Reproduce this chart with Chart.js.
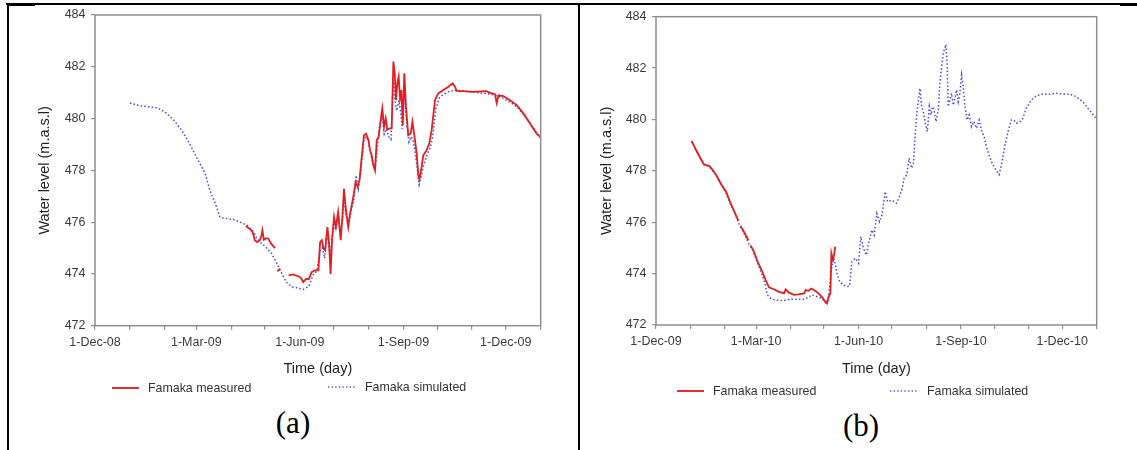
<!DOCTYPE html>
<html>
<head>
<meta charset="utf-8">
<script src="https://cdn.jsdelivr.net/npm/chart.js@4.4.0/dist/chart.umd.min.js"></script>
<style>
  body { margin: 0; background: #fff; }
  #page { position: relative; width: 1137px; height: 450px; overflow: hidden; background: #fff;
          font-family: Arial, "Liberation Sans", sans-serif; }
  canvas { position: absolute; top: 0; }
  #chart-a { left: 0; }
  #chart-b { left: 560px; }
  .rule { position: absolute; background: #000; z-index: 2; }
  .legend-item { position: absolute; display: flex; align-items: center; font-size: 12.4px; color: #333;
                 transform: translateY(-50%); white-space: nowrap; }
  .legend-item svg { margin-right: 9px; }
  .caption { position: absolute; font-family: "Liberation Serif", "Times New Roman", serif; font-size: 31px;
             color: #000; transform: translate(-50%, -50%); }
</style>
</head>
<body>
<div id="page">
  <!-- table rules around the two panels -->
  <div class="rule" style="left:6px; top:3px; width:1131px; height:1.5px;"></div>
  <div class="rule" style="left:7px; top:3px; width:28px; height:2.5px;"></div>
  <div class="rule" style="left:565px; top:3px; width:31px; height:2px;"></div>
  <div class="rule" style="left:1120px; top:4px; width:17px; height:1.8px;"></div>
  <div class="rule" style="left:6.7px; top:3px; width:2.3px; height:447px;"></div>
  <div class="rule" style="left:578.3px; top:3px; width:2px; height:447px;"></div>

  <canvas id="chart-a" width="560" height="400"></canvas>
  <canvas id="chart-b" width="560" height="400"></canvas>

  <div class="legend-item" style="left:112px; top:388px;">
    <svg width="27" height="4"><line x1="0" y1="2" x2="27" y2="2" stroke="#e03030" stroke-width="2"/></svg>
    Famaka measured
  </div>
  <div class="legend-item" style="left:328px; top:386.5px;">
    <svg width="28" height="4"><line x1="0" y1="2" x2="28" y2="2" stroke="#5a5ad8" stroke-width="1.4" stroke-dasharray="1.4 2.2"/></svg>
    Famaka simulated
  </div>
  <div class="caption" style="left:293px; top:423px;">(a)</div>

  <div class="legend-item" style="left:677px; top:391px;">
    <svg width="27" height="4"><line x1="0" y1="2" x2="27" y2="2" stroke="#e03030" stroke-width="2"/></svg>
    Famaka measured
  </div>
  <div class="legend-item" style="left:890px; top:390.5px;">
    <svg width="28" height="4"><line x1="0" y1="2" x2="28" y2="2" stroke="#5a5ad8" stroke-width="1.4" stroke-dasharray="1.4 2.2"/></svg>
    Famaka simulated
  </div>
  <div class="caption" style="left:861px; top:426px;">(b)</div>
</div>

<script>
// days counted from 1 December of the first year, one tick per month start
const monthTicks = [0, 31, 62, 90, 121, 151, 182, 212, 243, 274, 304, 335, 365, 396];
const labelsA = ['1-Dec-08', '1-Mar-09', '1-Jun-09', '1-Sep-09', '1-Dec-09'];
const labelsB = ['1-Dec-09', '1-Mar-10', '1-Jun-10', '1-Sep-10', '1-Dec-10'];
const levelTicks = [472, 474, 476, 478, 480, 482, 484];

// 2009 season: [day, water level]; null marks days without records
const measuredA = [
  [134, 475.85], [136, 475.78], [138, 475.72], [140, 475.62], [142, 475.3], [144, 475.23],
  [146.5, 475.3], [148, 475.5], [148.7, 475.68], [150, 475.32], [152, 475.38], [154, 475.36],
  [157, 475.14], [160, 475.0], [161, null], [162, 474.1], [164.5, 474.2], [167, null],
  [172, 473.94], [176, 473.98], [181, 473.9], [183, 473.85], [185, 473.68], [187.5, 473.81],
  [190, 473.8], [192.5, 474.07], [195.5, 474.14], [198.5, 474.14], [200, 475.23], [201.5, 475.3],
  [203, 474.98], [204.5, 474.91], [206.5, 475.81], [208, 475.17], [209.3, 474.0], [210.6, 475.3],
  [212.4, 476.2], [214, 475.81], [216, 476.39], [218.3, 475.3], [219.8, 476.2], [221.2, 477.29],
  [223, 476.46], [225, 475.81], [226.6, 476.33], [229.5, 476.97], [231.6, 477.55], [233.4, 477.36],
  [235, 477.62], [237, 478.52], [239, 479.36], [240.8, 479.42], [243, 479.17], [244.3, 478.78],
  [245.8, 478.58], [247.3, 478.2], [248.8, 478.0], [250.3, 479.17], [252, 479.29], [253.8, 479.94],
  [255.3, 480.39], [256.8, 479.68], [258.3, 480.01], [259.7, 479.58], [262, 479.62], [263.6, 479.62],
  [265.1, 482.2], [266.3, 481.75], [267.4, 480.71], [268.6, 481.36], [269.8, 481.62], [271, 480.78],
  [272.2, 481.1], [273.4, 479.75], [274.8, 481.75], [276.3, 480.46], [278.3, 479.36], [280.5, 479.42],
  [282, 479.87], [284.3, 479.17], [285.8, 478.65], [287.3, 477.81], [288.2, 477.65], [290.2, 478.13],
  [291.7, 478.58], [294.7, 478.78], [297, 479.04], [299.1, 479.55], [302.1, 480.71], [305, 480.97],
  [309.5, 481.1], [314, 481.23], [317.8, 481.36], [319.8, 481.23], [321.3, 481.07], [327, 481.06],
  [336, 481.03], [348, 481.06], [351, 480.99], [355.4, 480.94], [356.9, 480.6], [358.4, 480.9],
  [362.8, 480.87], [368.7, 480.71], [374.7, 480.52], [380.6, 480.2], [386.5, 479.81], [392.4, 479.42],
  [396, 479.27]
];
const simulatedA = [
  [31, 480.6], [40, 480.49], [55, 480.42], [62, 480.26], [70, 479.94], [77, 479.55], [84, 479.04],
  [90, 478.52], [98, 477.87], [102, 477.23], [107, 476.71], [111, 476.2], [114, 476.16], [123, 476.1],
  [129, 476.0], [135, 475.88], [141, 475.62], [144, 475.36], [148, 475.17], [151, 475.07], [157, 474.78],
  [161, 474.46], [166, 474.01], [170, 473.68], [175, 473.5], [179, 473.47], [185, 473.4], [190, 473.52],
  [194, 473.98], [197, 474.1], [200, 474.9], [202, 475.0], [204, 474.6], [206, 475.7], [209, 474.7],
  [212, 475.9], [214, 475.7], [216, 476.3], [218, 475.6], [220, 476.1], [221, 476.9], [223, 476.3],
  [225, 475.9], [227, 476.3], [230, 476.9], [232, 477.8], [234, 477.3], [236, 477.9], [239, 479.2],
  [241, 479.3], [243, 479.1], [245, 478.6], [247, 478.3], [249, 478.1], [251, 479.0], [253, 479.7],
  [255, 480.1], [257, 479.4], [259, 479.6], [261, 479.3], [263, 479.2], [265, 481.5], [266, 480.9],
  [268, 480.3], [270, 480.7], [272, 480.1], [273, 479.6], [275, 481.0], [277, 479.8], [279, 479.1],
  [281, 479.3], [283, 479.1], [285, 478.5], [288, 477.45], [290, 477.8], [292, 478.2], [295, 478.6],
  [298, 478.9], [300, 479.3], [303, 480.4], [306, 480.8], [310, 480.95], [315, 481.05], [320, 481.1],
  [330, 481.05], [340, 481.0], [350, 480.95], [356, 480.9], [362, 480.8], [368, 480.65], [375, 480.45],
  [381, 480.15], [387, 479.8], [393, 479.4], [396, 479.25]
];

// 2010 season
const measuredB = [
  [32, 479.17], [36, 478.81], [40, 478.49], [43, 478.25], [48, 478.19], [51, 478.03], [54, 477.84],
  [58, 477.52], [63, 477.19], [67, 476.74], [70, 476.45], [74, 476.05], [75, null], [76, 475.85],
  [79, 475.63], [83, 475.3], [84, null], [85, 475.1], [88, 474.86], [91, 474.5], [95.5, 474.08],
  [98.5, 473.75], [101.5, 473.47], [106, 473.39], [110, 473.3], [115, 473.23], [116.5, 473.39],
  [119.5, 473.26], [124, 473.17], [128, 473.19], [133, 473.23], [134.5, 473.36], [137, 473.33],
  [139.5, 473.42], [143, 473.33], [146, 473.23], [149, 473.1], [152, 472.91], [153.7, 472.84],
  [155.2, 473.1], [156.7, 473.23], [157.6, 474.79], [159, 474.53], [160, 474.72], [161, 475.05]
];
const simulatedB = [
  [32, 479.15], [36, 478.8], [40, 478.47], [44, 478.23], [48, 478.17], [51, 478.0], [55, 477.8],
  [59, 477.45], [63, 477.12], [67, 476.7], [71, 476.35], [75, 475.9], [79, 475.6], [83, 475.2],
  [87, 474.9], [91, 474.45], [95, 474.0], [98, 473.6], [100, 473.17], [103, 473.04], [107, 472.97],
  [115, 472.95], [121, 473.0], [127, 473.0], [133, 473.0], [137, 473.08], [140, 473.17], [145, 473.1],
  [149, 473.04], [153, 472.84], [155, 473.1], [158, 474.27], [159.7, 474.6], [161, 474.4],
  [162.6, 474.01], [165, 473.69], [168.6, 473.56], [171.6, 473.49], [174, 473.52], [176, 474.47],
  [179, 474.6], [182, 474.4], [184, 475.44], [186.5, 474.98], [189, 474.72], [191, 475.18],
  [194, 475.7], [196, 475.5], [198.4, 476.34], [200.8, 476.02], [203, 476.28], [206, 477.19],
  [208, 476.8], [212, 476.86], [216, 476.74], [218.7, 476.99], [220.8, 477.26], [223, 477.71],
  [225.3, 477.84], [227.4, 478.49], [229.8, 478.1], [231.3, 478.29], [232.8, 479.33], [234.3, 480.24],
  [235.8, 480.76], [237.2, 481.21], [238.7, 480.5], [240.2, 480.31], [242, 479.85], [243.8, 479.53],
  [245.6, 480.5], [247.1, 480.18], [248.6, 480.5], [250.1, 480.31], [251.6, 479.92], [253.7, 480.37],
  [255.1, 481.41], [256.6, 482.06], [258.1, 482.58], [259.6, 482.77], [260.5, 482.92], [261.7, 482.06],
  [262.6, 480.5], [264.1, 480.76], [265.6, 481.02], [267.1, 480.56], [268.6, 480.82], [270.1, 481.15],
  [271.6, 480.69], [273.1, 481.02], [274.6, 481.73], [276.1, 481.28], [277.5, 480.56], [279.6, 479.98],
  [281.4, 480.18], [283.5, 479.72], [285.6, 479.92], [288, 479.66], [290.4, 479.98], [292.4, 479.59],
  [294.8, 479.33], [296.9, 478.94], [299.3, 478.62], [301.4, 478.36], [304.4, 478.1], [306.5, 477.97],
  [308.3, 477.85], [310.4, 478.23], [313.3, 478.94], [316.3, 479.53], [319.3, 479.98], [321.4, 479.98],
  [323.8, 479.85], [327.4, 479.92], [329.7, 480.05], [332.7, 480.44], [337.2, 480.76], [341.7, 480.92],
  [347.6, 480.99], [353.6, 480.98], [359.6, 481.02], [365.6, 480.99], [371.6, 480.99], [377.5, 480.89],
  [383.5, 480.69], [388, 480.44], [395.4, 480.05]
];

const axisGrey = '#8f8f8f';
const tickText = '#3a3a3a';

// grey box round the plotting area
const frameBox = {
  id: 'frameBox',
  afterDatasetsDraw(chart) {
    const { ctx, chartArea: a } = chart;
    ctx.save();
    ctx.strokeStyle = axisGrey;
    ctx.lineWidth = 1.5;
    ctx.strokeRect(a.left, a.top, a.right - a.left, a.bottom - a.top);
    ctx.restore();
  }
};

function toPoints(rows) {
  return rows.map(([day, level]) => ({ x: day, y: level }));
}

function buildChart(canvasId, measured, simulated, labels, box) {
  const majorLabel = new Map(labels.map((text, i) => [monthTicks[i * 3], text]));

  return new Chart(document.getElementById(canvasId), {
    type: 'line',
    data: {
      datasets: [{
        label: 'Famaka measured',
        data: toPoints(measured),
        borderColor: '#e41e1e',
        borderWidth: 1.8,
        pointRadius: 0,
        tension: 0,
        spanGaps: false
      }, {
        label: 'Famaka simulated',
        data: toPoints(simulated),
        borderColor: 'rgba(52, 52, 214, 0.9)',
        borderWidth: 1.5,
        borderDash: [1.5, 2.2],
        pointRadius: 0,
        tension: 0
      }]
    },
    options: {
      responsive: false,
      animation: false,
      events: [],
      layout: { padding: { left: 0, top: box.top, right: box.right, bottom: 0 } },
      plugins: { legend: { display: false }, tooltip: { enabled: false } },
      scales: {
        x: {
          type: 'linear',
          min: 0,
          max: 396,
          border: { display: false },
          grid: { drawOnChartArea: false, tickLength: 4, color: axisGrey, lineWidth: 1.2 },
          afterBuildTicks: (scale) => { scale.ticks = monthTicks.map((v) => ({ value: v })); },
          afterFit: (scale) => { scale.height = box.xHeight; },
          ticks: {
            autoSkip: false,
            maxRotation: 0,
            padding: 5.5,
            color: tickText,
            font: { family: 'Arial, "Liberation Sans", sans-serif', size: 12.5 },
            callback: (value) => majorLabel.get(value) || ''
          },
          title: {
            display: true,
            text: 'Time (day)',
            color: '#222',
            font: { family: 'Arial, "Liberation Sans", sans-serif', size: 14.5 },
            padding: { top: 0, bottom: box.xTitlePad }
          }
        },
        y: {
          min: 472,
          max: 484,
          border: { display: false },
          grid: { drawOnChartArea: false, tickLength: 4, color: axisGrey, lineWidth: 1.2 },
          afterBuildTicks: (scale) => { scale.ticks = levelTicks.map((v) => ({ value: v })); },
          afterFit: (scale) => { scale.width = box.yWidth; },
          ticks: {
            padding: 5.5,
            color: tickText,
            font: { family: 'Arial, "Liberation Sans", sans-serif', size: 12.5 }
          },
          title: {
            display: true,
            text: 'Water level (m.a.s.l)',
            color: '#222',
            font: { family: 'Arial, "Liberation Sans", sans-serif', size: 14.5 },
            padding: { top: box.yTitlePad, bottom: 0 }
          }
        }
      }
    },
    plugins: [frameBox]
  });
}

buildChart('chart-a', measuredA, simulatedA, labelsA,
  { top: 15, right: 19.3, yWidth: 95, xHeight: 74.3, xTitlePad: 22.3, yTitlePad: 36.3 });
buildChart('chart-b', measuredB, simulatedB, labelsB,
  { top: 16.7, right: 23.3, yWidth: 96, xHeight: 75, xTitlePad: 22.3, yTitlePad: 38.3 });
</script>
</body>
</html>
